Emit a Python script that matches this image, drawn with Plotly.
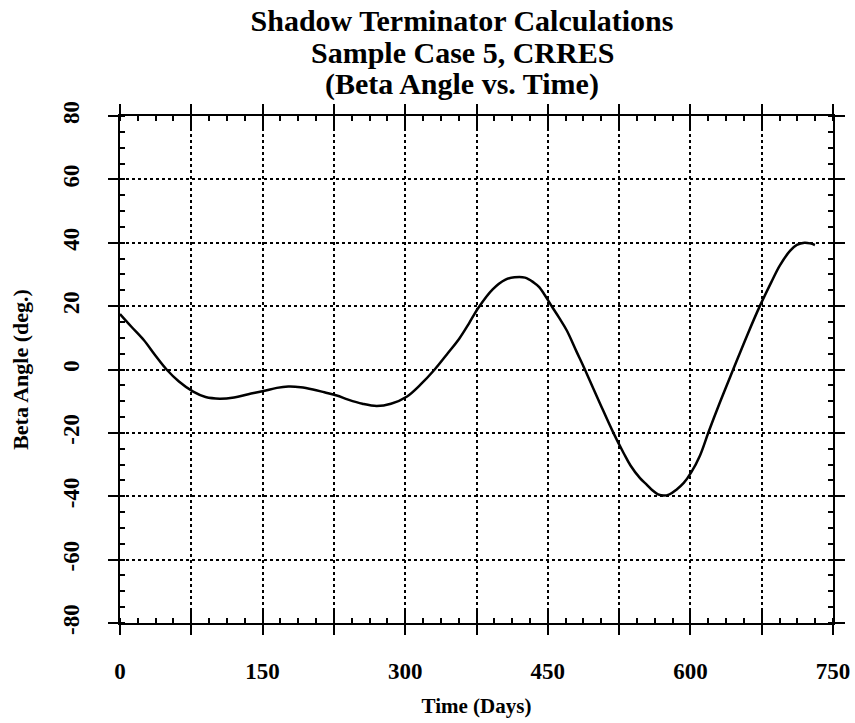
import plotly.graph_objects as go

# Data
days = [0, 12, 25, 37, 49, 62, 77, 90, 105, 120, 135, 151, 165, 177, 190, 203, 215,
        228, 240, 255, 270, 285, 302, 316, 331, 345, 357, 367, 377, 392, 405, 415,
        426, 435, 441, 454, 462, 470, 480, 489, 505, 519, 530, 537, 547, 554, 560,
        566, 572, 578, 585, 593, 601, 610, 619, 631, 645, 660, 673, 685, 694, 705,
        712, 720, 726, 731]
beta = [17.5, 13.5, 9.3, 4.5, 0.0, -3.8, -7.0, -8.7, -9.2, -8.8, -7.8, -6.8, -5.8,
        -5.4, -5.6, -6.3, -7.2, -8.2, -9.5, -10.8, -11.5, -10.8, -8.5, -4.8, 0.0,
        5.2, 9.8, 14.5, 19.5, 25.3, 28.3, 29.1, 29.0, 27.5, 26.0, 20.0, 16.3, 12.3,
        5.8, 0.0, -10.8, -20.0, -26.5, -30.3, -34.3, -36.3, -38.1, -39.4, -39.8,
        -39.4, -38.0, -35.8, -32.4, -27.2, -19.8, -10.4, 0.0, 11.0, 20.0, 27.5, 32.8,
        37.5, 39.3, 40.0, 39.8, 39.3]

x_ticks = [0, 75, 150, 225, 300, 375, 450, 525, 600, 675, 750]
x_labels = ["0", "", "150", "", "300", "", "450", "", "600", "", "750"]
y_ticks = [-80, -60, -40, -20, 0, 20, 40, 60, 80]
y_labels = ["-80", "-60", "-40", "-20", "0", "20", "40", "60", "80"]

title_lines = ["Shadow Terminator Calculations", "Sample Case 5, CRRES",
               "(Beta Angle vs. Time)"]
x_title = "Time (Days)"
y_title = "Beta Angle (deg.)"

SERIF = "Liberation Serif"
TITLE_FONT = dict(family=SERIF, size=30, color="black", weight="bold")

fig = go.Figure()
fig.add_trace(go.Scatter(x=days, y=beta, mode="lines", line_shape="spline",
                         line=dict(color="black", width=2.5, smoothing=1.0),
                         showlegend=False))
# empty trace to activate overlay axes (inside parts of crossing ticks)
fig.add_trace(go.Scatter(x=[], y=[], xaxis="x2", yaxis="y2", showlegend=False))

common_tick = dict(color="black", tickcolor="black", tickwidth=2,
                   linecolor="black", linewidth=2, zeroline=False, automargin=False)

# plot area: top 116 px, bottom 623 px -> paper y for a pixel row
def paper_y(py):
    return 1 + (116 - py) / 507.0

fig.update_layout(
    width=855, height=723,
    margin=dict(l=120, r=22, t=116, b=100, autoexpand=False),
    paper_bgcolor="white", plot_bgcolor="white",
    title=dict(text=title_lines[0], x=462 / 855, xanchor="center",
               y=1 - 20 / 723, yanchor="middle", font=TITLE_FONT),
    annotations=[
        dict(text=title_lines[1], xref="paper", yref="paper",
             x=(462 - 120) / 713, y=paper_y(52), xanchor="center", yanchor="middle",
             showarrow=False, font=TITLE_FONT),
        dict(text=title_lines[2], xref="paper", yref="paper",
             x=(462 - 120) / 713, y=paper_y(84), xanchor="center", yanchor="middle",
             showarrow=False, font=TITLE_FONT),
    ],
    xaxis=dict(range=[0, 750], tickmode="array", tickvals=x_ticks, ticktext=x_labels,
               ticks="outside", ticklen=10, showline=True, mirror="allticks",
               showgrid=True, gridcolor="black", griddash="dot", gridwidth=1.5,
               ticklabelstandoff=16,
               tickfont=dict(family=SERIF, size=23, color="black", weight="bold"),
               title=dict(text=x_title, standoff=16,
                          font=dict(family=SERIF, size=21, color="black", weight="bold")),
               minor=dict(ticks="inside", ticklen=5, dtick=18.75, tick0=0,
                          tickwidth=1.5, tickcolor="black", showgrid=False),
               **common_tick),
    yaxis=dict(range=[-80, 80], tickmode="array", tickvals=y_ticks, ticktext=y_labels,
               ticks="outside", ticklen=10, showline=True, mirror="allticks",
               showgrid=True, gridcolor="black", griddash="dot", gridwidth=1.5,
               tickangle=-90, ticklabelstandoff=20,
               tickfont=dict(family=SERIF, size=23, color="black", weight="bold"),
               title=dict(text=y_title, standoff=24,
                          font=dict(family=SERIF, size=22, color="black", weight="bold")),
               minor=dict(ticks="inside", ticklen=5, dtick=5, tick0=0,
                          tickwidth=1.5, tickcolor="black", showgrid=False),
               **common_tick),
    xaxis2=dict(range=[0, 750], overlaying="x", anchor="y2", tickmode="array",
                tickvals=x_ticks, showticklabels=False, ticks="inside", ticklen=12,
                mirror="allticks", showgrid=False, showline=False, automargin=False,
                tickcolor="black", tickwidth=2, zeroline=False),
    yaxis2=dict(range=[-80, 80], overlaying="y", anchor="x2", tickmode="array",
                tickvals=y_ticks, showticklabels=False, ticks="inside", ticklen=4,
                mirror="allticks", showgrid=False, showline=False, automargin=False,
                tickcolor="black", tickwidth=2, zeroline=False),
)

fig.write_html("out.html")
